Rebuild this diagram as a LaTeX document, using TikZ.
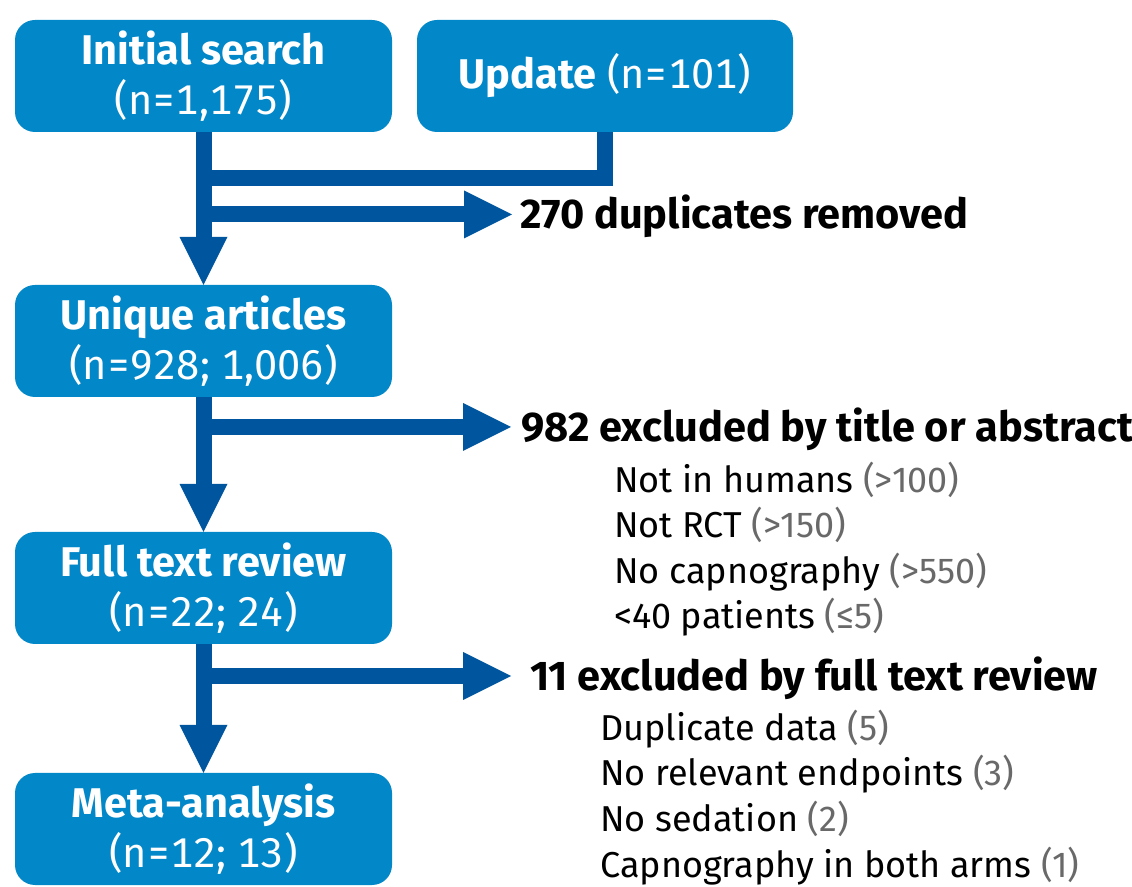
\documentclass[tikz,border=0pt]{standalone}
\usepackage{fontspec}
\setmainfont{Fira Sans}
\newfontfamily\stagefont{Fira Sans}[Numbers=Monospaced]
\usetikzlibrary{arrows.meta}
\definecolor{boxblue}{RGB}{2,135,201}
\definecolor{arrowblue}{RGB}{0,86,158}
\definecolor{numgrey}{RGB}{105,105,105}
\tikzstyle{Stage}=[rectangle, rounded corners=20pt, minimum width=377pt, minimum height=112pt, inner sep=0pt, fill=boxblue, text=white, align=center, font=\stagefont\fontsize{41.5}{50}\selectfont]
\tikzstyle{Flow}=[draw=arrowblue, line width=16pt]
\tikzstyle{Head}=[-{Triangle[length=48pt, width=48pt, line width=0pt]}]
\tikzstyle{Excl}=[anchor=west, inner xsep=8pt, inner ysep=0pt, text height=28.6pt, text depth=0pt, font=\fontsize{41.5}{50}\selectfont\bfseries]
\tikzstyle{Reason}=[anchor=west, inner sep=0pt, text height=25pt, text depth=0pt, font=\fontsize{36}{45}\selectfont]

\begin{document}
\begin{tikzpicture}[x=1pt, y=1pt]
    \useasboundingbox (0,0) rectangle (1132,886);
    \path
    (203.5,810) node[Stage] (init) {\textbf{Initial search}\\(n=1,175)}
    (605,810) node[Stage, minimum width=376pt] (upd) {\textbf{Update} (n=101)}
    (203.5,545) node[Stage] (uniq) {\textbf{Unique articles}\\(n=928; 1,006)}
    (203.5,298) node[Stage] (full) {\textbf{Full text review}\\(n=22; 24)}
    (203.5,57) node[Stage] (meta) {\textbf{Meta-analysis}\\(n=12; 13)};
    \path (512,671.5) node[Excl] (dup) {270 duplicates removed}
    (511,459) node[Excl, inner xsep=10pt] (abs) {982 excluded by title or abstract}
    (511,210) node[Excl, inner xsep=19pt] (ftr) {11 excluded by full text review};
    \coordinate (merge) at (203.5,708);

    \foreach \why/\cnt [count=\i] in {Not in humans/>100, Not RCT/>150, No capnography/>550, <40 patients/≤5}
        \node[Reason] (absr\i) at (614,451.5-45.5*\i) {\why{} \textcolor{numgrey}{(\cnt)}};
    \foreach \why/\cnt [count=\i] in {Duplicate data/5, No relevant endpoints/3, No sedation/2, Capnography in both arms/1}
        \node[Reason] (ftrr\i) at (600,203.5-45.5*\i) {\why{} \textcolor{numgrey}{(\cnt)}};

    \draw[Flow] (upd.south) |- (merge);
    \draw[Flow, Head] (init) -- (uniq);
    \draw[Flow, Head] (uniq) -- (full);
    \draw[Flow, Head] (full) -- (meta);
    \draw[Flow, Head] (init.south |- dup.west) -- (dup.west);
    \draw[Flow, Head] (uniq.south |- abs.west) -- (abs.west);
    \draw[Flow, Head] (full.south |- ftr.west) -- (ftr.west);
\end{tikzpicture}
\end{document}
